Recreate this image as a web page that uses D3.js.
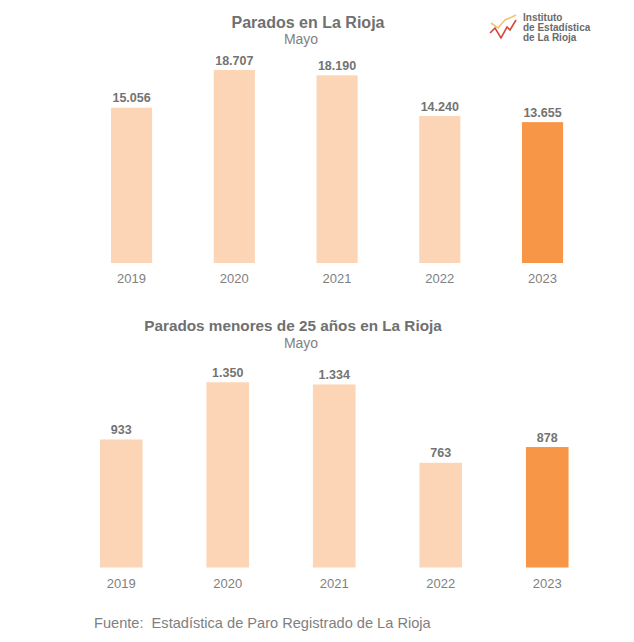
<!DOCTYPE html>
<html><head><meta charset="utf-8">
<script src="https://cdn.jsdelivr.net/npm/d3@7"></script>
<style>
html,body{margin:0;padding:0;background:#fff;}
svg{display:block;font-family:"Liberation Sans",Arial,sans-serif;}
</style></head>
<body>
<svg id="chart" width="634" height="642"></svg>
<script>
const years = ["2019","2020","2021","2022","2023"];
const parados = [15056, 18707, 18190, 14240, 13655];
const paradosJovenes = [933, 1350, 1334, 763, 878];
const highlightYear = "2023";
const title1 = "Parados en La Rioja";
const title2 = "Parados menores de 25 años en La Rioja";
const subtitle = "Mayo";
const footer = "Fuente:  Estadística de Paro Registrado de La Rioja";
const logoLines = ["Instituto", "de Estadística", "de La Rioja"];

const svg = d3.select("#chart");
const fmt = v => d3.format(",")(v).replace(/,/g, ".");
const light = "#FBD5B5", strong = "#F79646";

function panel(values, o) {
  const x = d3.scaleBand().domain(years).range(o.xr).paddingInner(0.6).paddingOuter(0.3);
  const y = d3.scaleLinear().domain([0, o.max]).range([o.bottom, o.top]);
  const g = svg.append("g");
  g.append("text").attr("x", o.titleX).attr("y", o.titleY).attr("text-anchor", "middle")
    .attr("font-size", o.titleSize).attr("font-weight", "bold").attr("fill", "#707070").text(o.title);
  g.append("text").attr("x", 301).attr("y", o.titleY + 16.5).attr("text-anchor", "middle")
    .attr("font-size", 14).attr("fill", "#7f7f7f").text(subtitle);
  const data = years.map((yr, i) => ({yr, v: values[i]}));
  g.selectAll("rect").data(data).join("rect")
    .attr("x", d => x(d.yr)).attr("width", x.bandwidth())
    .attr("y", d => y(d.v)).attr("height", d => y(0) - y(d.v))
    .attr("fill", d => d.yr === highlightYear ? strong : light);
  g.selectAll("text.val").data(data).join("text").attr("class", "val")
    .attr("x", d => x(d.yr) + x.bandwidth() / 2).attr("y", d => y(d.v) - 5.5)
    .attr("text-anchor", "middle").attr("font-size", 12.5).attr("font-weight", "bold")
    .attr("fill", "#737373").text(d => fmt(d.v));
  const ax = g.append("g").attr("transform", `translate(0,${o.bottom})`)
    .call(d3.axisBottom(x).tickSize(0).tickPadding(0));
  ax.select(".domain").remove();
  ax.selectAll("text").attr("font-size", 13).attr("fill", "#7f7f7f")
    .attr("font-family", "Liberation Sans, Arial, sans-serif")
    .attr("dy", null).attr("y", o.labelY - o.bottom);
}

panel(parados, {xr: [80.2, 593.9], max: 20000, bottom: 263, top: 56.7,
  title: title1, titleX: 308, titleY: 27.5, titleSize: 16, labelY: 283});
panel(paradosJovenes, {xr: [68, 600.5], max: 1500, bottom: 567.5, top: 361.7,
  title: title2, titleX: 293, titleY: 331, titleSize: 15.3, labelY: 588});

svg.append("text").attr("x", 94).attr("y", 627.5).attr("font-size", 14.6)
  .attr("fill", "#7f7f7f").attr("xml:space", "preserve").style("white-space", "pre").text(footer);

// logo
const logo = svg.append("g");
logo.append("polyline").attr("points", "491,23 498,28 505,20 512,17 516,15")
  .attr("fill", "none").attr("stroke", "#F2C46D").attr("stroke-width", 1.6);
logo.append("polyline").attr("points", "490,33 495,28 501,38 507,27 510,30 516,20")
  .attr("fill", "none").attr("stroke", "#D9453A").attr("stroke-width", 1.6);
logo.selectAll("text.logo").data(logoLines).join("text").attr("class", "logo")
  .attr("x", 523).attr("y", (d, i) => 20.5 + i * 10)
  .attr("font-size", 10).attr("font-weight", "bold").attr("fill", "#6a6a6a").text(d => d);
</script>
</body></html>
